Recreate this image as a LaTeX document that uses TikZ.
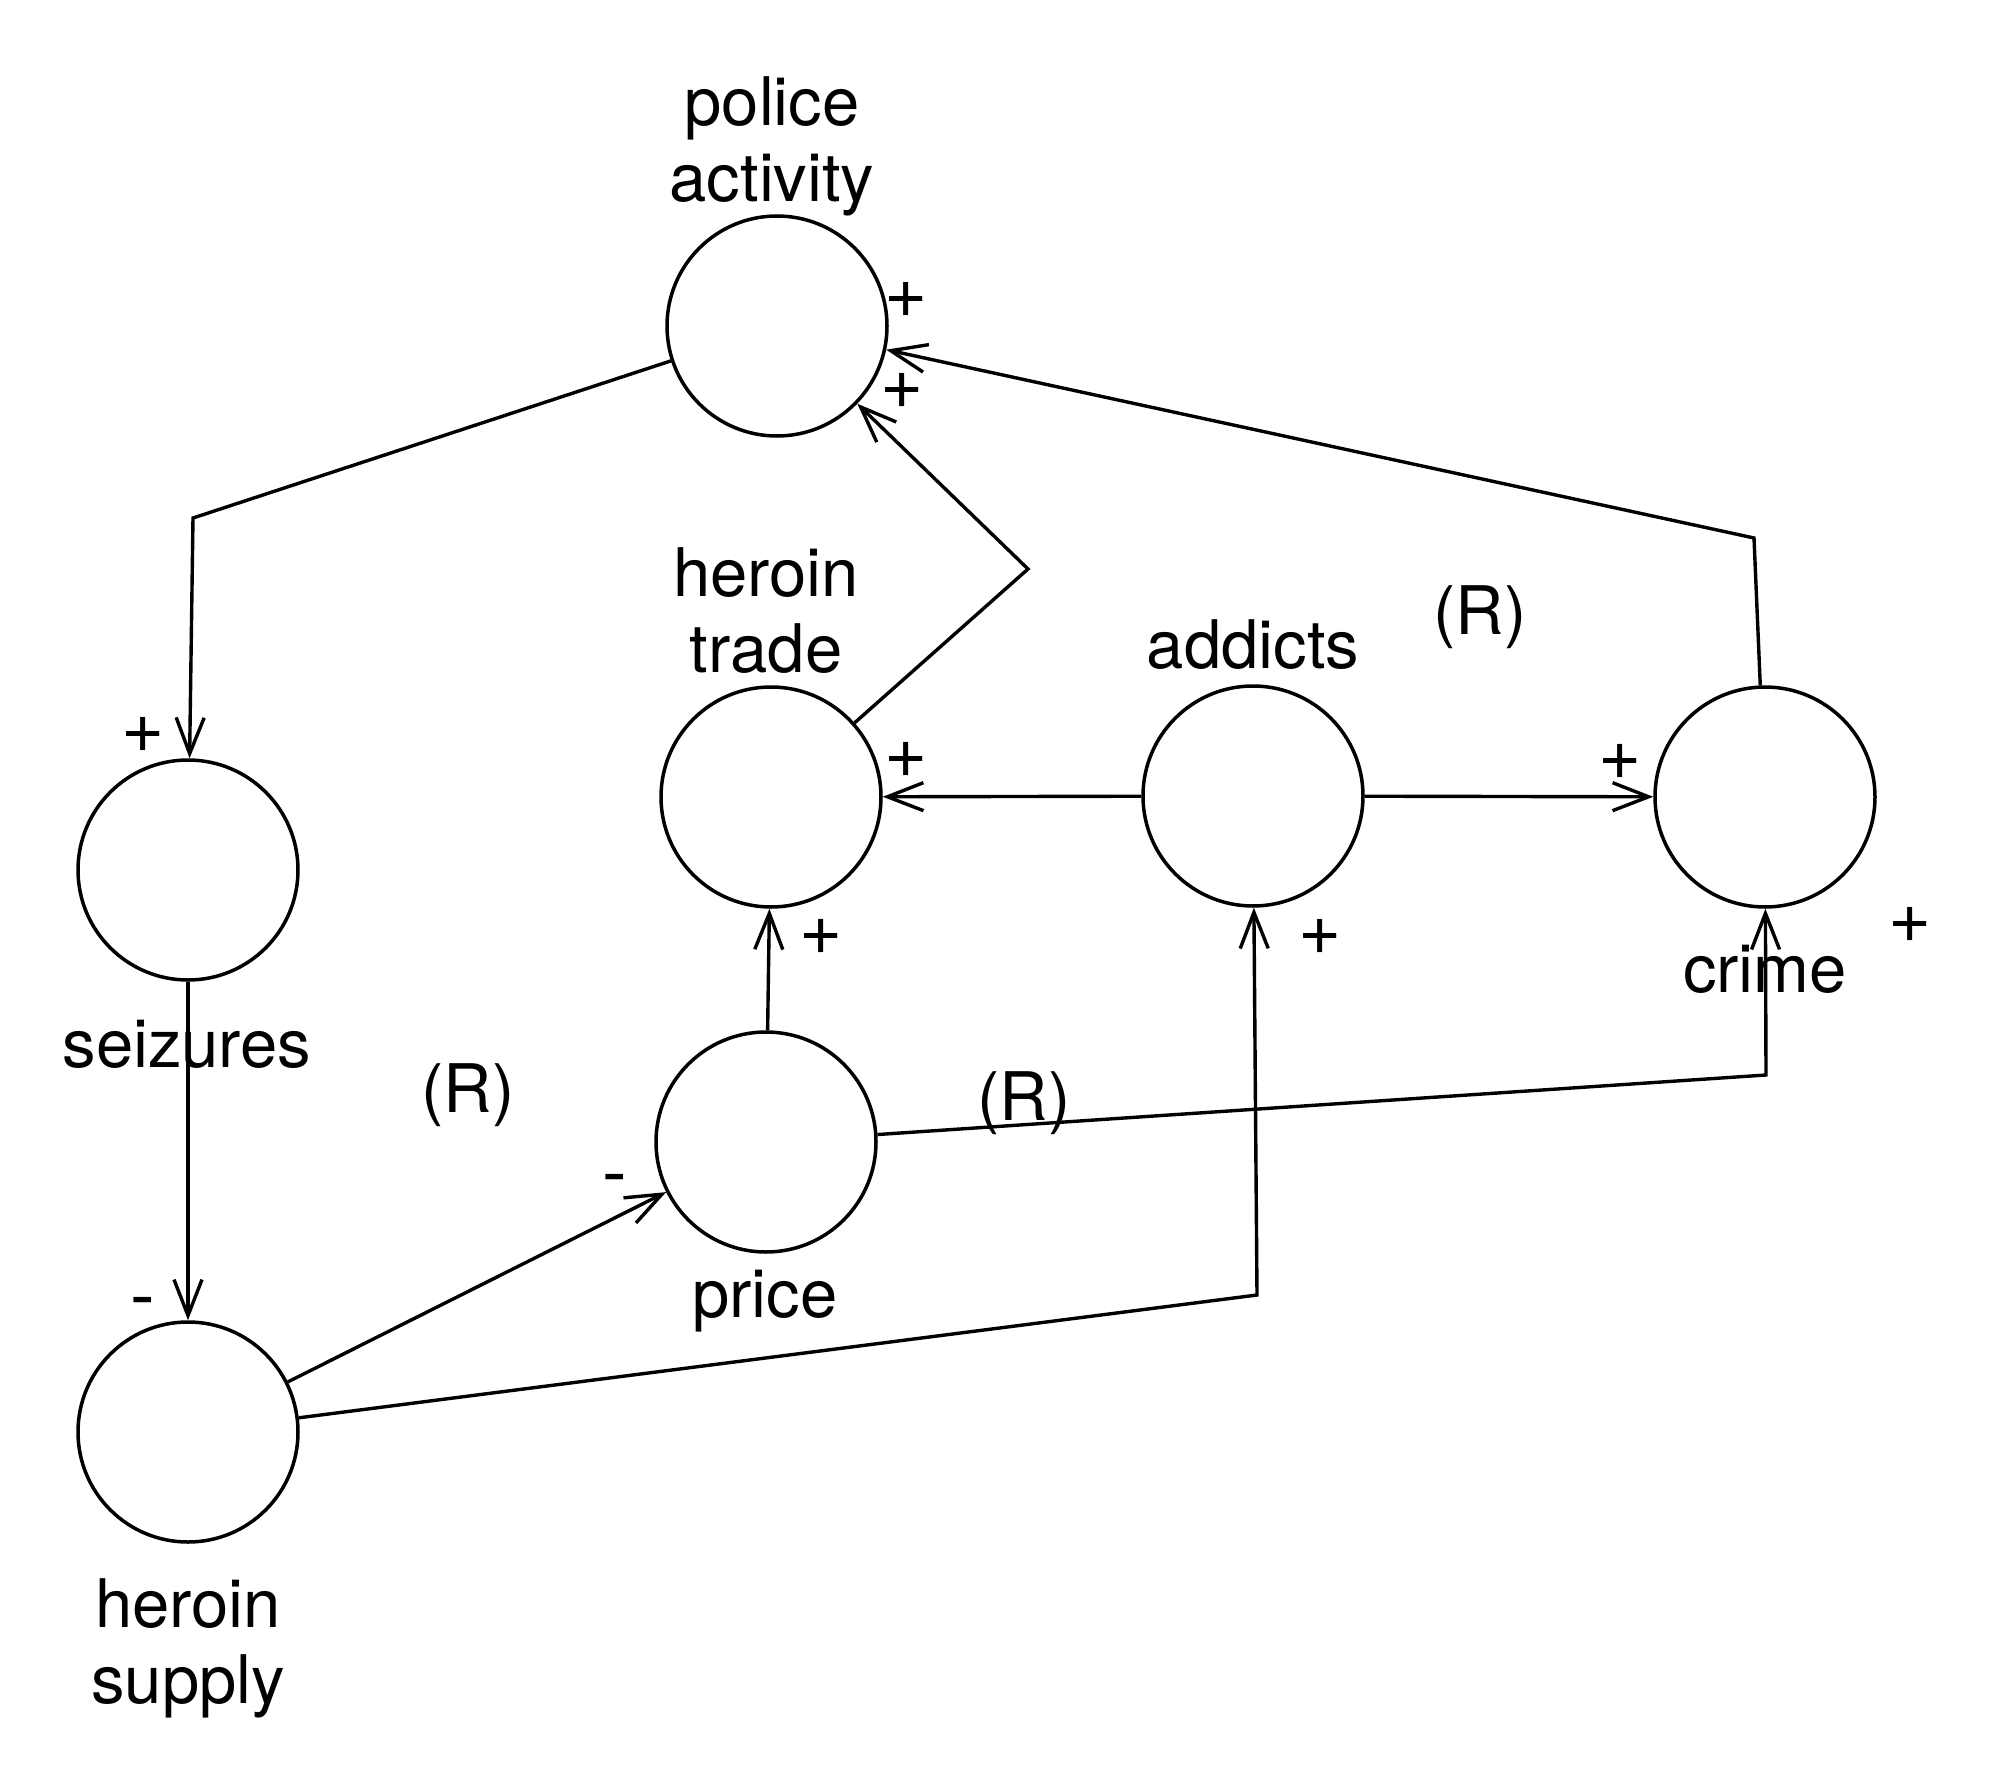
\documentclass[tikz,border=0pt]{standalone}
\usepackage{fontspec}
\setmainfont{TeX Gyre Heros}
\usetikzlibrary{arrows.meta}
\begin{document}
\begin{tikzpicture}[x=1pt,y=-1pt,
  var/.style={circle,draw,line width=3.5pt,minimum size=220pt,inner sep=0pt},
  link/.style={line width=3.4pt,line join=miter},
  arr/.style={link,-{Straight Barb[length=36pt,width=28pt,line width=3.4pt]}},
  lbl/.style={font=\fontsize{67}{76}\selectfont,inner sep=0pt,anchor=base,align=center},
  plus/.style={font=\fontsize{74}{80}\selectfont,inner sep=0pt,anchor=center},
  minus/.style={font=\fontsize{74}{80}\selectfont,inner sep=0pt,anchor=base}]
\useasboundingbox[fill=white] (0,0) rectangle (1995,1779);
% variables
\node[var] (pol) at (777,326) {};
\node[var] (tra) at (771,797) {};
\node[var] (add) at (1253,796) {};
\node[var] (cri) at (1765,797) {};
\node[var] (sei) at (188,870) {};
\node[var] (pri) at (766,1142) {};
\node[var] (sup) at (188,1432) {};
% bend points
\coordinate (c1) at (193,518);
\coordinate (c2) at (1257,1295);
\coordinate (c3) at (1766,1075);
\coordinate (c4) at (1028,569);
\coordinate (c5) at (1754,538);
% connectors
\draw[arr] (pol) -- (c1) -- (sei);
\draw[arr] (sei) -- (sup);
\draw[arr] (sup) -- (pri);
\draw[arr] (sup) -- (c2) -- (add);
\draw[arr] (pri) -- (tra);
\draw[arr] (pri) -- (c3) -- (cri);
\draw[arr] (add) -- (tra);
\draw[arr] (add) -- (cri);
\draw[arr] (tra) -- (c4) -- (pol);
\draw[arr] (cri) -- (c5) -- (pol);
% labels (base = baseline of last line)
\node[lbl] (lpol) at (772,202) {police\\activity};
\node[lbl] (ltra) at (766,672) {heroin\\trade};
\node[lbl] (ladd) at (1253,668) {addicts};
\node[lbl] (lcri) at (1765,992) {crime};
\node[lbl] (lsei) at (187,1067) {seizures};
\node[lbl] (lpri) at (765,1317) {price};
\node[lbl] (lsup) at (188,1703) {heroin\\supply};
\node[lbl] (r1) at (1480,634) {(R)};
\node[lbl] (r2) at (468,1112) {(R)};
\node[lbl] (r3) at (1024,1120) {(R)};
% polarity signs
\node[plus] (s1) at (906,300) {+};
\node[plus] (s2) at (902,391) {+};
\node[plus] (s3) at (143,735) {+};
\node[plus] (s4) at (906,760) {+};
\node[plus] (s5) at (821,937) {+};
\node[plus] (s6) at (1320,937) {+};
\node[plus] (s7) at (1620,762) {+};
\node[plus] (s8) at (1910,925) {+};
\node[minus] (m1) at (143,1320) {-};
\node[minus] (m2) at (615,1197) {-};
\end{tikzpicture}
\end{document}
